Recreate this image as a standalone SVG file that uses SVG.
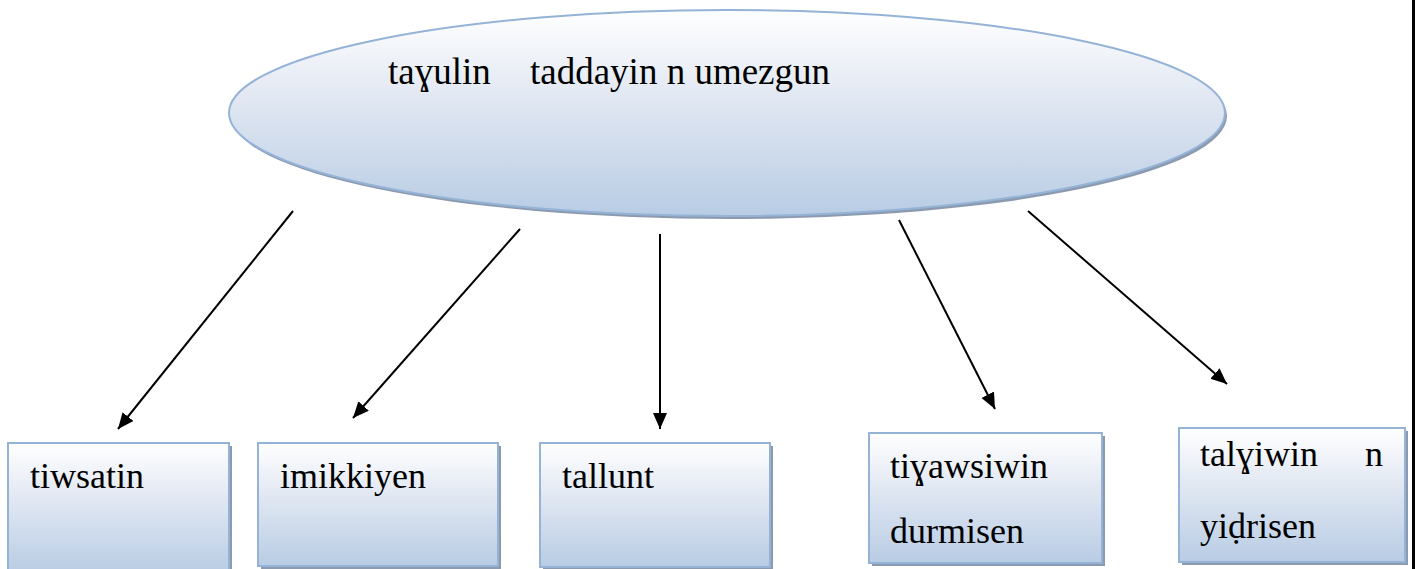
<svg xmlns="http://www.w3.org/2000/svg" width="1415" height="569" viewBox="0 0 1415 569">
<defs>
<linearGradient id="g" x1="0" y1="0" x2="0" y2="1">
<stop offset="0" stop-color="#ffffff"/>
<stop offset="0.4" stop-color="#e3e9f3"/>
<stop offset="1" stop-color="#b8cce4"/>
</linearGradient>
<marker id="ah" markerUnits="userSpaceOnUse" markerWidth="16" markerHeight="16" viewBox="0 0 16 14" refX="16" refY="7" orient="auto">
<path d="M0,0 L16,7 L0,14 Z" fill="#000"/>
</marker>
</defs>
<style>
.shape{fill:url(#g);stroke:#95b3d7;stroke-width:2}
.shadow{fill:#8c9ab0}
.t{fill:#000}
.c{stroke:#000;stroke-width:2;fill:none;marker-end:url(#ah)}
</style>
<rect x="1412" y="0" width="3" height="569" fill="#000"/>
<g id="root" font-family="'Liberation Serif', 'DejaVu Serif', serif" font-size="37">
<ellipse class="shadow" cx="729" cy="116" rx="498" ry="103"/>
<ellipse class="shape" cx="727" cy="113" rx="498" ry="103"/>
<text class="t" x="388" y="84">taɣulin</text>
<text class="t" x="530" y="84">taddayin n umezgun</text>
</g>
<g id="n1" font-family="'Liberation Serif', 'DejaVu Serif', serif" font-size="36">
<rect class="shadow" x="11" y="446" width="221" height="126"/>
<rect class="shape" x="8" y="443" width="221" height="130"/>
<text class="t" x="30" y="488">tiwsatin</text>
</g>
<g id="n2" font-family="'Liberation Serif', 'DejaVu Serif', serif" font-size="36">
<rect class="shadow" x="261" y="446" width="240" height="123"/>
<rect class="shape" x="258" y="443" width="240" height="123"/>
<text class="t" x="280" y="488">imikkiyen</text>
</g>
<g id="n3" font-family="'Liberation Serif', 'DejaVu Serif', serif" font-size="36">
<rect class="shadow" x="543" y="446" width="230" height="124"/>
<rect class="shape" x="540" y="443" width="230" height="124"/>
<text class="t" x="562" y="488">tallunt</text>
</g>
<g id="n4" font-family="'Liberation Serif', 'DejaVu Serif', serif" font-size="36">
<rect class="shadow" x="872" y="436" width="233" height="130"/>
<rect class="shape" x="869" y="433" width="233" height="130"/>
<text class="t" x="890" y="478">tiɣawsiwin</text>
<text class="t" x="890" y="543">durmisen</text>
</g>
<g id="n5" font-family="'Liberation Serif', 'DejaVu Serif', serif" font-size="36">
<rect class="shadow" x="1182" y="431" width="226" height="134"/>
<rect class="shape" x="1179" y="428" width="226" height="134"/>
<text class="t" x="1200" y="466">talɣiwin</text>
<text class="t" x="1365" y="466">n</text>
<text class="t" x="1200" y="538">yiḍrisen</text>
</g>
<g id="connectors">
<line class="c" x1="293" y1="211" x2="118" y2="429"/>
<line class="c" x1="520" y1="229" x2="353" y2="418"/>
<line class="c" x1="660" y1="234" x2="660" y2="429"/>
<line class="c" x1="899" y1="220" x2="995" y2="409"/>
<line class="c" x1="1028" y1="211" x2="1227" y2="384"/>
</g>
</svg>
